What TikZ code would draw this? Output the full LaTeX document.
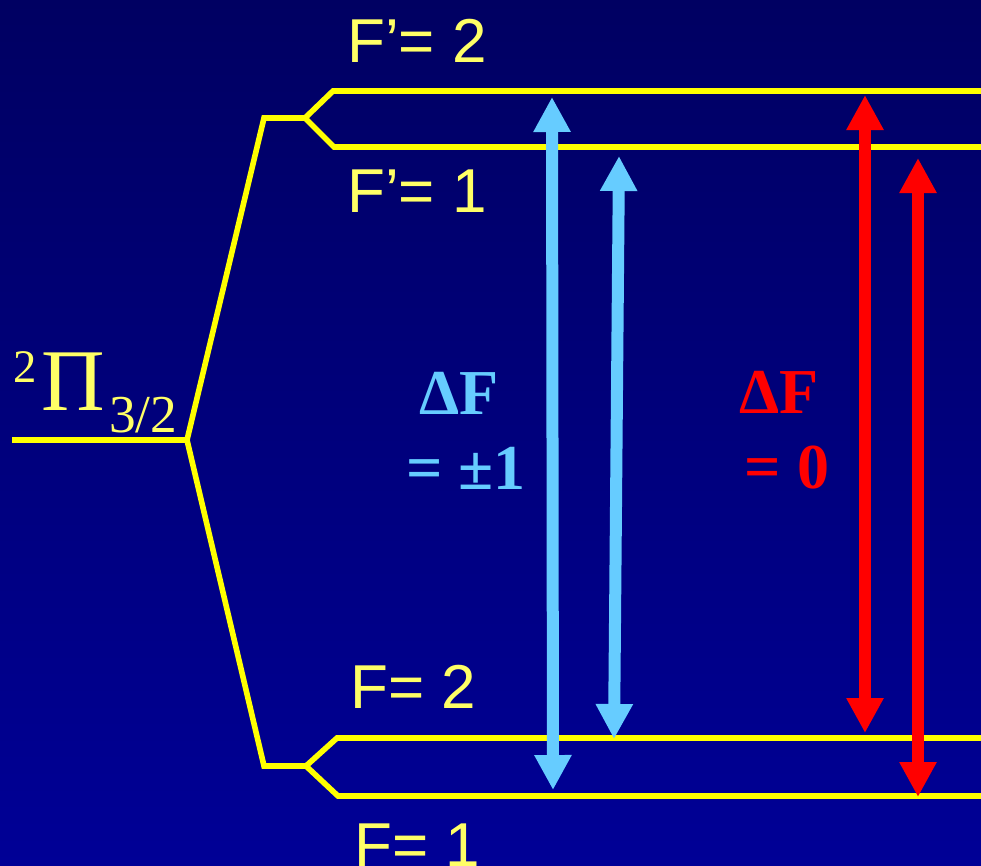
\documentclass[tikz,border=0pt]{standalone}
\usepackage{fontspec}
\setmainfont{Liberation Serif}
\newfontfamily\labsans{Liberation Sans}
\usetikzlibrary{arrows.meta}
\definecolor{bgtop}{RGB}{0,0,98}
\definecolor{bgbot}{RGB}{0,0,150}
\definecolor{lvl}{RGB}{255,255,0}
\definecolor{txtyel}{RGB}{255,255,102}
\definecolor{ltblue}{RGB}{102,204,255}
\definecolor{trred}{RGB}{255,0,0}
\tikzset{
  level/.style={draw=lvl, line width=4.2pt},
  flabel/.style={anchor=base west, inner sep=0pt, text=txtyel, font=\labsans\fontsize{46.5pt}{50pt}\selectfont},
  termtxt/.style={anchor=base west, inner sep=0pt, text=txtyel},
  dflabel/.style={anchor=base, inner sep=0pt, font=\bfseries\fontsize{48pt}{50pt}\selectfont},
  transition/.style={line width=9pt, {Triangle[width=26.25pt,length=26.25pt]}-{Triangle[width=26.25pt,length=26.25pt]}},
}
\begin{document}
\begin{tikzpicture}[x=0.75pt, y=-0.75pt]
\useasboundingbox (0,0) rectangle (981,865);
\shade[top color=bgtop, bottom color=bgbot] (0,0) rectangle (981,865);

% level points
\coordinate (g0) at (12,440);
\coordinate (g1) at (187,440);
\coordinate (uc) at (264,118);
\coordinate (uf) at (305,118);
\coordinate (u2s) at (333,91);
\coordinate (u2e) at (981,91);
\coordinate (u1s) at (334,147);
\coordinate (u1e) at (981,147);
\coordinate (lc) at (264,766);
\coordinate (lf) at (306,766);
\coordinate (l2s) at (337,738);
\coordinate (l2e) at (981,738);
\coordinate (l1s) at (338,796);
\coordinate (l1e) at (981,796);

% levels
\draw[level] (g0) -- (g1) -- (uc) -- (uf) -- (u2s) -- (u2e);
\draw[level] (uf) -- (u1s) -- (u1e);
\draw[level] (g1) -- (lc) -- (lf) -- (l2s) -- (l2e);
\draw[level] (lf) -- (l1s) -- (l1e);

% level labels
\node[flabel] (lF2p) at (347,62) {F’= 2};
\node[flabel] (lF1p) at (347,212) {F’= 1};
\node[flabel] (lF2) at (350,708) {F= 2};
\node[flabel] (lF1) at (354,866) {F= 1};

% term symbol
\node[termtxt, font=\fontsize{35pt}{38pt}\selectfont] (tsup) at (13,382) {2};
\node[termtxt, font=\fontsize{66pt}{70pt}\selectfont] (tpi) at (41,410) {Π};
\node[termtxt, font=\fontsize{40pt}{44pt}\selectfont] (tsub) at (109,432) {3/2};

% transitions
\coordinate (b1t) at (552,97);
\coordinate (b1b) at (553,790);
\coordinate (b2t) at (619,156);
\coordinate (b2b) at (614,739);
\coordinate (r1t) at (865,95);
\coordinate (r1b) at (865,733);
\coordinate (r2t) at (918,158);
\coordinate (r2b) at (918,797);
\draw[transition, draw=ltblue, fill=ltblue] (b1t) -- (b1b);
\draw[transition, draw=ltblue, fill=ltblue] (b2t) -- (b2b);
\draw[transition, draw=trred, fill=trred] (r1t) -- (r1b);
\draw[transition, draw=trred, fill=trred] (r2t) -- (r2b);

% selection rule labels
\node[dflabel, text=ltblue] (bd1) at (459,414) {ΔF};
\node[dflabel, text=ltblue] (bd2) at (466,489) {= ±1};
\node[dflabel, text=trred] (rd1) at (779,413) {ΔF};
\node[dflabel, text=trred] (rd2) at (787,488) {= 0};
\end{tikzpicture}
\end{document}
